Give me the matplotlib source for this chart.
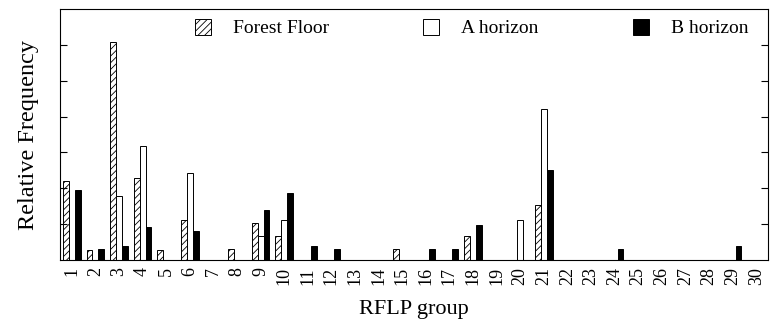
import numpy as np
import matplotlib.pyplot as plt

plt.rcParams['font.family'] = ['Liberation Serif', 'DejaVu Serif']
plt.rcParams['hatch.linewidth'] = 0.6

# RFLP groups 1..30, relative frequency per horizon
groups = np.arange(1, 31)
forest_floor = np.zeros(30)
a_horizon = np.zeros(30)
b_horizon = np.zeros(30)

ff_vals = {1: 0.110, 2: 0.014, 3: 0.304, 4: 0.114, 5: 0.014, 6: 0.056, 8: 0.016,
           9: 0.052, 10: 0.033, 15: 0.016, 18: 0.033, 21: 0.077}
a_vals = {3: 0.089, 4: 0.159, 6: 0.122, 9: 0.033, 10: 0.056, 20: 0.056, 21: 0.211}
b_vals = {1: 0.098, 2: 0.016, 3: 0.020, 4: 0.046, 6: 0.041, 9: 0.070, 10: 0.093,
          11: 0.020, 12: 0.016, 16: 0.016, 17: 0.016, 18: 0.049, 21: 0.125,
          24: 0.016, 29: 0.020}
for k, v in ff_vals.items():
    forest_floor[k - 1] = v
for k, v in a_vals.items():
    a_horizon[k - 1] = v
for k, v in b_vals.items():
    b_horizon[k - 1] = v

fig = plt.figure(figsize=(7.72, 3.21), dpi=100)
ax = fig.add_axes([60 / 772, 1 - 260 / 321, 708 / 772, 251 / 321])

w = 0.25
ax.bar(groups - w, forest_floor, w, color='white', edgecolor='black',
       hatch='/////', linewidth=0.7, label='Forest Floor')
ax.bar(groups, a_horizon, w, color='white', edgecolor='black',
       linewidth=0.7, label='A horizon')
ax.bar(groups + w, b_horizon, w, color='black', edgecolor='black',
       linewidth=0.7, label='B horizon')

ax.set_xlim(0.5, 30.5)
ax.set_ylim(0, 0.35)
ax.set_xticks(groups)
ax.set_xticklabels([str(g) for g in groups], rotation=90, fontsize=13)
ax.set_yticks(np.arange(0.05, 0.31, 0.05))
ax.tick_params(axis='y', direction='in', length=5, left=True, right=True,
               labelleft=False)
ax.tick_params(axis='x', length=0, pad=5)

ax.set_xlabel('RFLP group', fontsize=16, labelpad=11)
ax.set_ylabel('Relative Frequency', fontsize=17.5, labelpad=15)

ax.legend(ncol=3, frameon=False, loc='center left',
          bbox_to_anchor=((195 - 60) / 708, (260 - 28) / 251),
          borderpad=0, borderaxespad=0, fontsize=14,
          handlelength=0.82, handleheight=0.88, handletextpad=1.13,
          columnspacing=4.85)

fig.savefig('out.png', dpi=100)
